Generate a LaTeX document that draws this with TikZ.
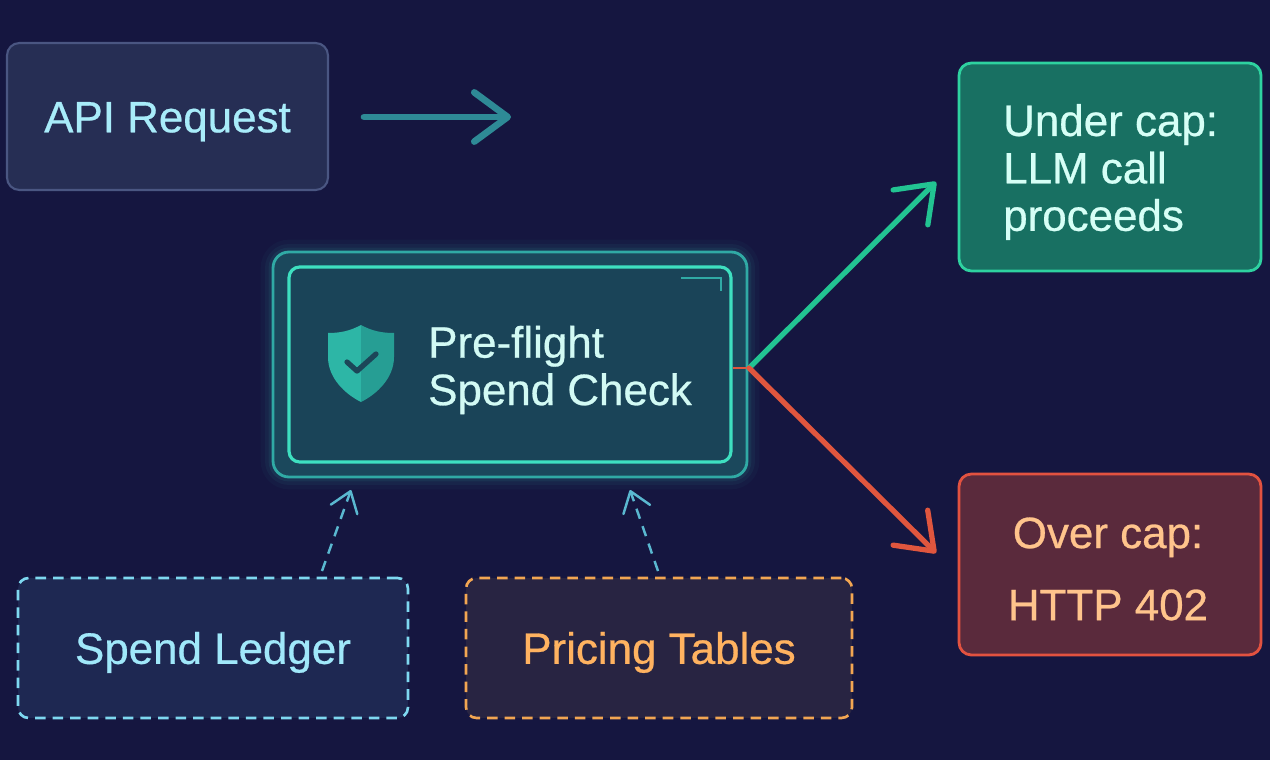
\documentclass[tikz,border=0pt]{standalone}
\usepackage{fontspec}
\setmainfont{Liberation Sans}[FakeBold=0.6]
\usetikzlibrary{arrows.meta}

\definecolor{bg}{RGB}{21,22,64}
\definecolor{apifill}{RGB}{38,46,84}
\definecolor{apiline}{RGB}{74,86,130}
\definecolor{apitext}{RGB}{168,236,250}
\definecolor{reqarrow}{RGB}{46,138,150}
\definecolor{checkfill}{RGB}{27,72,92}
\definecolor{checkedge}{RGB}{48,170,165}
\definecolor{checkcore}{RGB}{26,68,88}
\definecolor{checkglow}{RGB}{62,224,192}
\definecolor{checktext}{RGB}{210,250,244}
\definecolor{shieldlight}{RGB}{45,182,166}
\definecolor{shielddark}{RGB}{38,158,148}
\definecolor{tick}{RGB}{28,70,88}
\definecolor{gofill}{RGB}{24,112,98}
\definecolor{goline}{RGB}{46,210,160}
\definecolor{gotext}{RGB}{214,255,246}
\definecolor{goarrow}{RGB}{34,196,146}
\definecolor{stopfill}{RGB}{90,42,60}
\definecolor{stopline}{RGB}{226,82,64}
\definecolor{stoptext}{RGB}{255,196,140}
\definecolor{stoparrow}{RGB}{224,86,62}
\definecolor{ledgerfill}{RGB}{30,40,82}
\definecolor{ledgerline}{RGB}{126,216,240}
\definecolor{ledgertext}{RGB}{160,232,250}
\definecolor{pricefill}{RGB}{40,36,66}
\definecolor{priceline}{RGB}{242,166,82}
\definecolor{pricetext}{RGB}{255,178,96}
\definecolor{feedarrow}{RGB}{90,184,208}

\begin{document}
\begin{tikzpicture}[x=0.02cm, y=-0.02cm,
    box/.style={rounded corners=7pt, line width=1.2pt, inner sep=0pt},
    label/.style={font=\fontsize{25}{27}\selectfont},
    oneline/.style={text height=18pt, text depth=0pt},
    flow/.style={line width=3pt, line cap=round,
        -{Straight Barb[length=19pt, width=28pt, line cap=round, line join=round]}},
    feed/.style={line width=1.4pt, dash pattern=on 6pt off 4.5pt, feedarrow,
        -{Straight Barb[length=11pt, width=16pt, line cap=round, line join=round]}},
    store/.style={box, oneline, line width=1.5pt, dash pattern=on 6pt off 4pt, rounded corners=6pt,
        minimum height=2.8cm}]
            \fill[bg] (0,0) rectangle (1270,760);
            \useasboundingbox (0,0) rectangle (1270,760);

            \node[box, label, oneline, draw=apiline, fill=apifill, text=apitext,
                minimum width=6.42cm, minimum height=2.94cm] (api) at (167.5,116.5) {API Request};

            \foreach \w/\o in {14/0.03, 9/0.05, 5/0.07}
                \draw[checkglow, opacity=\o, line width=\w pt, rounded corners=9pt] (273,252) rectangle (747,477);
            \node[box, draw=checkedge, fill=checkfill, line width=1.6pt, rounded corners=9pt,
                minimum width=9.48cm, minimum height=4.5cm] (check) at (510,364.5) {};
            \node[box, draw=checkglow, fill=checkcore, line width=1.8pt, rounded corners=6pt,
                minimum width=8.84cm, minimum height=3.9cm] (core) at (check) {};
            \draw[checkedge, line width=1.6pt] (681,278) -- (721,278) -- (721,291);
            \fill[shieldlight] (361,325) .. controls (350,331) and (340,333) .. (328,333)
                -- (328,357) .. controls (328,378) and (345,394) .. (361,402) -- cycle;
            \fill[shielddark] (361,325) .. controls (372,331) and (382,333) .. (394,333)
                -- (394,357) .. controls (394,378) and (377,394) .. (361,402) -- cycle;
            \draw[tick, line width=3pt, line cap=round, line join=round] (347,362) -- (357,371) -- (376,354);
            \node[label, text=checktext, align=left, anchor=west] (checktxt) at (422,370) {Pre-flight\\Spend Check};

            \node[box, draw=goline, fill=gofill, line width=1.6pt,
                minimum width=6.04cm, minimum height=4.16cm] (under) at (1110,167) {};
            \node[label, text=gotext, align=left, anchor=west] (undertxt) at (997,172) {Under cap:\\LLM call\\proceeds};

            \node[box, draw=stopline, fill=stopfill, line width=1.6pt,
                minimum width=6.04cm, minimum height=3.62cm] (over) at (1110,564.5) {};
            \node[font=\fontsize{25}{41}\selectfont, text=stoptext, align=center] (overtxt) at (1108,569) {Over cap:\\HTTP 402};

            \node[store, label, draw=ledgerline, fill=ledgerfill, text=ledgertext,
                minimum width=7.8cm] (ledger) at (213,648) {Spend Ledger};
            \node[store, label, draw=priceline, fill=pricefill, text=pricetext,
                minimum width=7.72cm] (pricing) at (659,648) {Pricing Tables};

            \coordinate (reqout) at (364,117);
            \coordinate (reqin) at (511,117);
            \coordinate (fork) at (749,368);
            \coordinate (gotip) at (936,182);
            \coordinate (stoptip) at (936,553);
            \coordinate (ledgerout) at (322,571);
            \coordinate (ledgerin) at (351,490);
            \coordinate (priceout) at (658,571);
            \coordinate (pricein) at (630,490);

            \draw[flow, reqarrow, line width=3.8pt] (reqout) -- (reqin);
            \draw[stoparrow, line width=1.5pt] (core.east |- fork) -- (fork);
            \draw[flow, goarrow] (fork) -- (gotip);
            \draw[flow, stoparrow] (fork) -- (stoptip);
            \draw[feed] (ledgerout) -- (ledgerin);
            \draw[feed] (priceout) -- (pricein);
        \end{tikzpicture}
\end{document}
